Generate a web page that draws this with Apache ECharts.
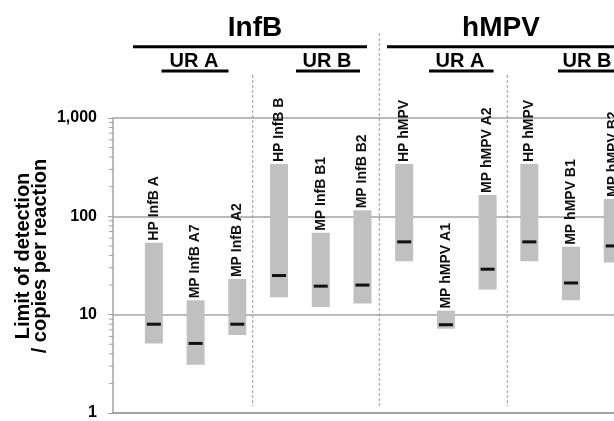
<!DOCTYPE html>
<html>
<head>
<meta charset="utf-8">
<script src="https://cdn.jsdelivr.net/npm/echarts@6/dist/echarts.min.js"></script>
<style>
  html, body { margin: 0; padding: 0; background: #fff; }
  #chart { width: 614px; height: 421px; }
</style>
</head>
<body>
<div id="chart"></div>
<script>
// Assays, in plotting order
const assays = [
  'HP InfB A', 'MP InfB A7', 'MP InfB A2',
  'HP InfB B', 'MP InfB B1', 'MP InfB B2',
  'HP hMPV', 'MP hMPV A1', 'MP hMPV A2',
  'HP hMPV', 'MP hMPV B1', 'MP hMPV B2'
];
// Limit of detection range (copies per reaction)
const lodHigh   = [54, 14, 23, 340, 68, 115, 340, 11, 165, 340, 49, 150];
const lodLow    = [5.1, 3.1, 6.2, 15, 12, 13, 35, 7.2, 18, 35, 14, 34];
const lodMedian = [8, 5.1, 8, 25, 19.5, 20, 55, 7.9, 29, 55, 21, 50];

// Axis ticks
const yMajorTicks = [1, 10, 100, 1000];
const yTickLabels = ['1', '10', '100', '1,000'];
const yMinorTicks = [2, 3, 4, 5, 6, 7, 8, 9, 20, 30, 40, 50, 60, 70, 80, 90, 200, 300, 400, 500, 600, 700, 800, 900];

// Group headers
const virusNames = ['InfB', 'hMPV'];
const regionNames = ['UR A', 'UR B', 'UR A', 'UR B'];

const FONT = '"Liberation Sans", Arial, Helvetica, sans-serif';
const GRID_GRAY = '#a3a3a3';
const X_MIN = -0.98, X_MAX = 11.03;

const chart = echarts.init(document.getElementById('chart'), null, { renderer: 'canvas' });

function dashed(x, y1, y2) {
  return {
    type: 'line', silent: true, z: 1,
    shape: { x1: x, y1: y1, x2: x, y2: y2 },
    style: { stroke: '#9a9a9a', lineWidth: 1, lineDash: [3, 2] }
  };
}
function rule(x1, x2, y, w) {
  return {
    type: 'line', silent: true,
    shape: { x1: x1, y1: y, x2: x2, y2: y },
    style: { stroke: '#000', lineWidth: w }
  };
}
function label(text, x, y, size) {
  return {
    type: 'text', silent: true, x: x, y: y,
    style: { text: text, font: 'bold ' + size + 'px ' + FONT, fill: '#000', align: 'center', verticalAlign: 'middle' }
  };
}

const option = {
  animation: false,
  backgroundColor: '#fff',
  grid: { left: 113, right: 0, top: 118, bottom: 6, containLabel: false },
  xAxis: {
    type: 'value', min: X_MIN, max: X_MAX,
    axisLine: { show: true, onZero: false, lineStyle: { color: GRID_GRAY, width: 2 } },
    axisTick: { show: false }, axisLabel: { show: false }, splitLine: { show: false }
  },
  yAxis: {
    type: 'log', logBase: 10, min: 1, max: 1000, splitNumber: 3,
    axisLine: { show: true, onZero: false, lineStyle: { color: GRID_GRAY, width: 1.5 } },
    axisTick: { show: true, length: 5, lineStyle: { color: GRID_GRAY, width: 1 } },
    axisLabel: {
      margin: 16, color: '#000', fontFamily: FONT, fontWeight: 'bold', fontSize: 16,
      formatter: function (v) {
        const k = yMajorTicks.findIndex(t => Math.abs(t - v) < 1e-6 * t);
        return k >= 0 ? yTickLabels[k] : '';
      }
    },
    splitLine: { show: true, lineStyle: { color: GRID_GRAY, width: 1.5 } }
  },
  graphic: [
    // y-axis title
    {
      type: 'text', silent: true, x: 23, y: 256, rotation: Math.PI / 2,
      style: { text: 'Limit of detection', font: 'bold 20px ' + FONT, fill: '#000', align: 'center', verticalAlign: 'middle' }
    },
    {
      type: 'text', silent: true, x: 40, y: 256, rotation: Math.PI / 2,
      style: { text: '/ copies per reaction', font: 'bold 20px ' + FONT, fill: '#000', align: 'center', verticalAlign: 'middle' }
    },
    // virus headers
    label(virusNames[0], 255, 28, 28),
    label(virusNames[1], 501, 28, 28),
    rule(133, 367, 46.7, 3),
    rule(387, 614, 46.7, 3),
    // region headers
    label(regionNames[0], 194, 61.5, 20),
    label(regionNames[1], 327, 61.5, 20),
    label(regionNames[2], 460, 61.5, 20),
    label(regionNames[3], 587, 61.5, 20),
    rule(161.5, 228.5, 71, 3),
    rule(296, 360, 71, 3),
    rule(429, 493.5, 71, 3),
    rule(558, 614, 71, 3),
    // separators
    dashed(252.7, 75, 406),
    dashed(379.3, 33, 406),
    dashed(507.3, 75, 406)
  ],
  series: [
    {
      // minor ticks of the log axis
      type: 'custom', silent: true, clip: false,
      data: yMinorTicks.map(v => [X_MIN, v]),
      renderItem: function (params, api) {
        const p = api.coord([api.value(0), api.value(1)]);
        return {
          type: 'line',
          shape: { x1: p[0] - 4, y1: p[1], x2: p[0], y2: p[1] },
          style: { stroke: GRID_GRAY, lineWidth: 1 }
        };
      }
    },
    {
      // LoD range bars with median marker and assay label
      type: 'custom', silent: true, clip: false,
      data: assays.map((name, i) => [i, lodHigh[i], lodLow[i], lodMedian[i]]),
      encode: { x: 0, y: [1, 2, 3] },
      renderItem: function (params, api) {
        const i = api.value(0);
        const top = api.coord([i, api.value(1)]);
        const bot = api.coord([i, api.value(2)]);
        const med = api.coord([i, api.value(3)]);
        const bw = 18, mw = 14;
        return {
          type: 'group',
          children: [
            {
              type: 'rect',
              shape: { x: top[0] - bw / 2, y: top[1], width: bw, height: bot[1] - top[1] },
              style: { fill: '#c0c0c0' }
            },
            {
              type: 'rect',
              shape: { x: med[0] - mw / 2, y: med[1] - 1.5, width: mw, height: 3 },
              style: { fill: '#111' }
            },
            {
              type: 'text', x: top[0], y: top[1] - 2, rotation: Math.PI / 2,
              style: {
                text: assays[i], font: 'bold 14px ' + FONT, fill: '#111',
                align: 'left', verticalAlign: 'middle'
              }
            }
          ]
        };
      }
    }
  ]
};

chart.setOption(option);
</script>
</body>
</html>
